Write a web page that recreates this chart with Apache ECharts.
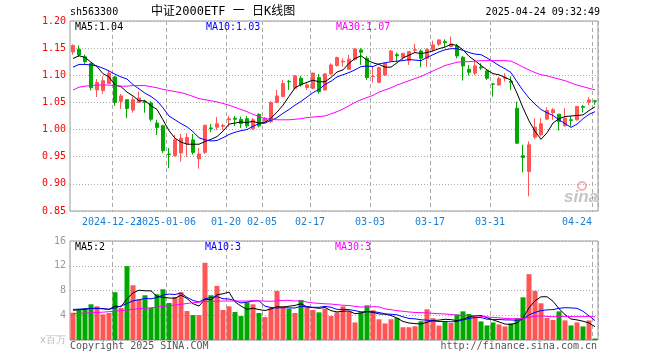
<!DOCTYPE html>
<html><head><meta charset="utf-8">
<script src="https://cdn.jsdelivr.net/npm/echarts@6/dist/echarts.min.js"></script>
<style>html,body{margin:0;padding:0;background:#fff}#c{width:660px;height:360px}</style>
</head><body><div id="c"></div>
<script>
const dates = ['2024-12-12','2024-12-13','2024-12-16','2024-12-17','2024-12-18','2024-12-19','2024-12-20','2024-12-23','2024-12-24','2024-12-25','2024-12-26','2024-12-27','2024-12-30','2024-12-31',
'2025-01-02','2025-01-03','2025-01-06','2025-01-07','2025-01-08','2025-01-09','2025-01-10','2025-01-13','2025-01-14','2025-01-15','2025-01-16','2025-01-17','2025-01-20','2025-01-21','2025-01-22','2025-01-23','2025-01-24','2025-01-27',
'2025-02-05','2025-02-06','2025-02-07','2025-02-10','2025-02-11','2025-02-12','2025-02-13','2025-02-14','2025-02-17','2025-02-18','2025-02-19','2025-02-20','2025-02-21','2025-02-24','2025-02-25','2025-02-26','2025-02-27','2025-02-28',
'2025-03-03','2025-03-04','2025-03-05','2025-03-06','2025-03-07','2025-03-10','2025-03-11','2025-03-12','2025-03-13','2025-03-14','2025-03-17','2025-03-18','2025-03-19','2025-03-20','2025-03-21','2025-03-24','2025-03-25','2025-03-26','2025-03-27','2025-03-28','2025-03-31',
'2025-04-01','2025-04-02','2025-04-03','2025-04-07','2025-04-08','2025-04-09','2025-04-10','2025-04-11','2025-04-14','2025-04-15','2025-04-16','2025-04-17','2025-04-18','2025-04-21','2025-04-22','2025-04-23','2025-04-24'];

const labelDates = ['2024-12-23','2025-01-06','2025-01-20','2025-02-05','2025-02-17','2025-03-03','2025-03-17','2025-03-31','2025-04-24'];
const labelTexts = ['2024-12-23','2025-01-06','01-20','02-05','02-17','03-03','03-17','03-31','04-24'];
const priceTicks = [0.85, 1.20, 0.05];
const volTicks = [0, 16, 4];

const open = [1.143,1.148,1.134,1.1215,1.073,1.072,1.085,1.097,1.052,1.055,
1.036,1.050,1.0515,1.049,1.012,1.007,0.955,0.952,0.957,0.974,
0.981,0.946,0.958,1.003,1.0044,1.006,1.018,1.021,1.019,1.020,
1.0014,1.028,1.015,1.015,1.050,1.061,1.0888,1.076,1.0946,1.0774,
1.076,1.0958,1.073,1.1025,1.118,1.1246,1.111,1.1295,1.1467,1.1313,
1.0975,1.087,1.1007,1.127,1.138,1.1332,1.127,1.146,1.1448,1.1313,
1.1479,1.1571,1.162,1.1528,1.154,1.1332,1.1111,1.1038,1.1148,1.108,
1.084,1.0823,1.0945,1.089,1.0394,0.9517,0.9229,0.9861,0.9904,1.0192,
1.0314,1.0284,1.0069,1.018,1.018,1.0425,1.0504,1.053];
const close = [1.155,1.1375,1.125,1.0774,1.0866,1.090,1.104,1.050,1.062,1.039,
1.055,1.058,1.050,1.019,1.004,0.961,0.954,0.981,0.984,0.9855,
0.958,0.955,1.008,1.002,1.0106,1.0075,1.020,1.019,1.011,1.007,
1.018,1.007,1.021,1.050,1.062,1.085,1.088,1.099,1.0823,1.0823,
1.104,1.070,1.1025,1.119,1.1326,1.1258,1.1295,1.1485,1.1424,1.0958,
1.098,1.114,1.1221,1.1448,1.136,1.1405,1.1436,1.147,1.1313,1.1479,
1.1559,1.1651,1.160,1.1577,1.1356,1.1172,1.1056,1.1172,1.1136,1.0946,
1.0835,1.0939,1.0964,1.087,0.975,0.9487,0.972,1.0044,1.0106,1.0351,
1.0363,1.0149,1.021,1.017,1.0425,1.0412,1.0547,1.052];
const low = [1.138,1.134,1.121,1.072,1.060,1.066,1.084,1.044,1.038,1.021,
1.031,1.049,1.031,1.015,0.990,0.957,0.929,0.950,0.941,0.950,
0.954,0.928,0.955,0.995,0.9995,0.9995,1.0055,1.0065,1.003,1.003,
0.999,1.004,1.012,1.012,1.0486,1.0596,1.073,1.0743,1.079,1.073,
1.074,1.066,1.072,1.100,1.116,1.116,1.110,1.127,1.119,1.0915,
1.0864,1.0854,1.099,1.1252,1.1252,1.1283,1.119,1.1418,1.1148,1.116,
1.1436,1.154,1.1516,1.1516,1.1313,1.0903,1.0995,1.1007,1.1099,1.0915,
1.0606,1.0805,1.0884,1.073,0.9738,0.9211,0.877,0.9824,0.9873,1.018,
1.018,0.9983,1.0057,1.0057,1.0167,1.0314,1.0455,1.0455];
const high = [1.157,1.155,1.138,1.123,1.093,1.098,1.110,1.099,1.066,1.055,
1.061,1.070,1.055,1.052,1.018,1.009,0.966,0.990,0.992,0.993,
0.992,0.966,1.0085,1.010,1.023,1.0106,1.025,1.025,1.024,1.025,
1.021,1.030,1.023,1.052,1.073,1.0915,1.0915,1.1007,1.099,1.0854,
1.105,1.1025,1.1038,1.122,1.1344,1.1313,1.1375,1.1497,1.1497,1.1356,
1.116,1.116,1.123,1.1467,1.1418,1.1405,1.1436,1.1577,1.1479,1.1497,
1.1638,1.1669,1.1663,1.1712,1.1577,1.1356,1.1191,1.1283,1.1221,1.1111,
1.0852,1.0976,1.1037,1.098,1.0517,0.972,0.9781,1.021,1.021,1.0412,
1.0394,1.0284,1.0394,1.0241,1.0437,1.0455,1.0596,1.0547];

const ma5 = [1.131,1.136,1.133,1.124,1.116,1.103,1.097,1.082,1.079,1.069,
1.062,1.053,1.053,1.044,1.037,1.018,0.998,0.984,0.977,0.973,
0.973,0.973,0.978,0.982,0.987,0.997,1.010,1.012,1.014,1.013,
1.015,1.012,1.013,1.021,1.032,1.045,1.061,1.077,1.083,1.087,
1.091,1.088,1.088,1.096,1.106,1.110,1.122,1.131,1.136,1.128,
1.123,1.120,1.115,1.115,1.123,1.132,1.137,1.142,1.140,1.142,
1.145,1.149,1.152,1.157,1.155,1.147,1.135,1.127,1.118,1.110,
1.103,1.101,1.096,1.091,1.067,1.040,1.016,0.997,0.982,0.994,
1.012,1.020,1.024,1.025,1.026,1.027,1.035,1.042];
const ma10 = [1.115,1.120,1.120,1.119,1.117,1.113,1.108,1.102,1.097,1.093,
1.083,1.075,1.067,1.061,1.053,1.040,1.025,1.018,1.011,1.005,
0.996,0.985,0.981,0.979,0.980,0.985,0.991,0.995,0.998,1.000,
1.006,1.011,1.012,1.017,1.022,1.030,1.037,1.045,1.052,1.060,
1.068,1.074,1.083,1.089,1.097,1.101,1.105,1.110,1.116,1.117,
1.116,1.121,1.123,1.125,1.126,1.127,1.129,1.128,1.127,1.133,
1.138,1.143,1.147,1.149,1.149,1.146,1.142,1.139,1.138,1.132,
1.125,1.118,1.112,1.105,1.088,1.072,1.058,1.047,1.037,1.031,
1.026,1.018,1.011,1.004,1.010,1.020,1.028,1.033];
const ma30 = [1.073,1.078,1.080,1.081,1.082,1.082,1.082,1.081,1.080,1.080,
1.081,1.081,1.081,1.079,1.077,1.074,1.072,1.070,1.068,1.065,
1.061,1.057,1.055,1.053,1.051,1.048,1.045,1.041,1.037,1.033,
1.028,1.024,1.020,1.019,1.018,1.018,1.018,1.019,1.020,1.022,
1.023,1.024,1.025,1.029,1.033,1.038,1.044,1.050,1.055,1.059,
1.063,1.069,1.073,1.077,1.082,1.086,1.090,1.094,1.098,1.103,
1.108,1.113,1.118,1.121,1.124,1.125,1.125,1.126,1.127,1.127,
1.127,1.127,1.127,1.126,1.121,1.115,1.110,1.105,1.101,1.099,
1.096,1.093,1.090,1.086,1.082,1.079,1.076,1.073];

const volume = [4.41,4.95,5.06,5.77,5.44,4.14,4.36,7.72,5.17,11.94,
8.85,6.58,7.23,5.17,7.39,8.2,5.98,6.96,7.72,4.68,
4.03,4.03,12.48,7.23,8.74,4.85,5.44,4.52,3.87,6.09,
5.77,4.36,3.71,5.17,7.93,5.44,5.06,4.36,6.47,5.44,
4.85,4.47,5.06,3.87,4.47,5.44,4.63,2.84,4.47,5.6,
4.8,3.35,2.68,3.35,3.58,2.06,2.06,2.22,3.03,4.96,
3.52,2.33,2.9,2.74,4.14,4.63,4.2,3.87,3.0,2.36,
2.84,2.52,2.19,2.68,3.52,6.9,10.64,7.93,5.93,3.55,
3.25,4.63,3.17,2.36,2.84,2.19,3.17,0.24];
const vma5 = [4.8,4.9,5.0,5.1,5.13,5.07,4.95,5.49,5.37,6.67,
7.61,8.05,7.95,7.95,7.04,6.91,6.79,6.74,7.25,6.71,
5.87,5.48,6.59,6.49,7.3,7.47,7.75,6.16,5.48,4.95,
5.14,4.92,4.76,5.02,5.39,5.32,5.46,5.59,5.85,5.35,
5.24,5.12,5.26,4.74,4.54,4.66,4.69,4.25,4.37,4.6,
4.47,4.21,4.18,3.96,3.55,3.0,2.75,2.65,2.59,2.87,
3.16,3.21,3.35,3.29,3.13,3.35,3.72,3.92,3.97,3.61,
3.25,2.92,2.58,2.52,2.75,3.56,5.19,6.33,6.98,6.99,
6.26,5.06,4.11,3.39,3.25,3.04,2.75,2.16];
const vma10 = [4.95,4.98,5.03,5.08,5.1,5.05,4.95,5.2,5.5,5.9,
6.34,6.5,6.72,6.66,6.86,7.26,7.42,7.35,7.6,6.88,
6.39,6.14,6.66,6.87,7.0,6.67,6.62,6.37,5.99,6.13,
6.3,6.33,5.46,5.25,5.17,5.23,5.19,5.18,5.44,5.37,
5.28,5.29,5.43,5.3,4.95,4.95,4.91,4.75,4.55,4.57,
4.57,4.45,4.22,4.16,4.07,3.74,3.48,3.42,3.27,3.21,
3.08,2.98,3.0,2.94,3.0,3.25,3.47,3.63,3.63,3.37,
3.3,3.32,3.25,3.24,3.18,3.41,4.05,4.46,4.75,4.87,
4.91,5.12,5.22,5.19,5.12,4.65,3.9,3.13];
const vma30 = [4.25,4.3,4.35,4.4,4.45,4.5,4.58,4.66,4.75,4.85,
4.95,5.05,5.13,5.2,5.32,5.45,5.55,5.65,5.77,5.9,
6.02,6.12,6.2,6.25,6.28,6.3,6.3,6.3,6.3,6.3,
6.35,6.33,6.28,6.26,6.34,6.39,6.41,6.3,6.34,6.13,
5.99,5.92,5.85,5.81,5.71,5.62,5.57,5.43,5.33,5.36,
5.38,5.36,5.03,4.9,4.73,4.64,4.53,4.45,4.42,4.38,
4.31,4.24,4.21,4.13,4.01,3.98,3.95,3.93,3.82,3.72,
3.65,3.58,3.49,3.45,3.42,3.47,3.67,3.84,3.88,3.82,
3.76,3.81,3.82,3.79,3.77,3.77,3.81,3.74];

const MONO = '"DejaVu Sans Mono","Liberation Mono",monospace';
const RED = '#ff5555', GREEN = '#00a800', BLUE_LBL = '#1a7fd4';
const isLabel = (i, v) => labelDates.indexOf(v) >= 0;
const isFirstLabel = (i, v) => v === labelDates[0];
const isOtherLabel = (i, v) => labelDates.indexOf(v) > 0;

const chart = echarts.init(document.getElementById('c'), null, {renderer: 'canvas'});

const txt = (x, y, text, fill, extra) => Object.assign({
  type: 'text', x: x, y: y, z: 100,
  style: Object.assign({text: text, font: '10px ' + MONO, fill: fill, verticalAlign: 'middle'}, extra || {})
});

const lineSeries = (data, color, xi, yi) => ({
  type: 'line', data: data, xAxisIndex: xi, yAxisIndex: yi, showSymbol: false, symbol: 'none',
  lineStyle: {color: color, width: 1}, itemStyle: {color: color}, silent: true, z: 5
});

const xLabel = (filter) => ({
  interval: filter, margin: 6, hideOverlap: false,
  formatter: (v) => {
    const k = labelDates.indexOf(v);
    return (k === labelDates.length - 1 ? '{e|' : '{n|') + labelTexts[k] + '}';
  },
  rich: {
    n: {fontFamily: MONO, fontSize: 10, color: BLUE_LBL, padding: [0, 6, 0, 0]},
    e: {fontFamily: MONO, fontSize: 10, color: BLUE_LBL, padding: [0, 36, 0, 0]}
  }
});

const xCommon = {
  type: 'category', data: dates, boundaryGap: true, position: 'bottom', offset: 0,
  axisLine: {show: false}, axisTick: {show: false},
  splitLine: {show: true, interval: isLabel, lineStyle: {color: '#aaa', type: [4, 3], width: 1}}
};

chart.setOption({
  animation: false,
  backgroundColor: '#fff',
  grid: [
    {left: 70, top: 21, width: 528, height: 190, show: true, borderColor: '#999', borderWidth: 1},
    {left: 70, top: 241, width: 528, height: 99, show: true, borderColor: '#999', borderWidth: 1}
  ],
  xAxis: [
    Object.assign({}, xCommon, {gridIndex: 0, axisLabel: xLabel(isOtherLabel)}),
    Object.assign({}, xCommon, {gridIndex: 1, axisLabel: {show: false}}),
    Object.assign({}, xCommon, {gridIndex: 0, splitLine: {show: false}, axisLabel: xLabel(isFirstLabel)})
  ],
  yAxis: [
    {type: 'value', gridIndex: 0, min: priceTicks[0], max: priceTicks[1], interval: priceTicks[2],
     axisLine: {show: false}, axisTick: {show: false},
     axisLabel: {color: '#ff0000', fontFamily: MONO, fontSize: 10, margin: 4, formatter: (v) => v.toFixed(2)},
     splitLine: {lineStyle: {color: '#aaa', type: [1, 2]}}},
    {type: 'value', gridIndex: 1, min: volTicks[0], max: volTicks[1], interval: volTicks[2],
     axisLine: {show: false}, axisTick: {show: false},
     axisLabel: {color: (v) => (Number(v) === 0 ? '#bbb' : '#999'), fontFamily: MONO, fontSize: 10, margin: 4,
       formatter: (v) => (v === 0 ? 'x百万' : String(v))},
     splitLine: {lineStyle: {color: '#aaa', type: [1, 2]}}}
  ],
  series: [
    {type: 'candlestick', xAxisIndex: 0, yAxisIndex: 0, barWidth: 4,
     data: dates.map((d, i) => [open[i], close[i], low[i], high[i]]),
     itemStyle: {color: RED, color0: GREEN, borderColor: RED, borderColor0: GREEN, borderWidth: 1}, z: 3},
    lineSeries(ma5, '#000000', 0, 0),
    lineSeries(ma10, '#0000ff', 0, 0),
    lineSeries(ma30, '#ff00ff', 0, 0),
    {type: 'bar', xAxisIndex: 1, yAxisIndex: 1, barWidth: 5,
     data: volume.map((v, i) => ({value: v, itemStyle: {color: close[i] >= open[i] ? RED : GREEN}})), z: 3},
    lineSeries(vma5, '#000000', 1, 1),
    lineSeries(vma10, '#0000ff', 1, 1),
    lineSeries(vma30, '#ff00ff', 1, 1)
  ],
  graphic: [
    txt(70, 12, 'sh563300', '#000'),
    txt(151, 12, '中证2000ETF 一 日K线图', '#000', {font: '12px "DejaVu Sans Mono","Noto Sans CJK SC",sans-serif'}),
    txt(600, 12, '2025-04-24 09:32:49', '#000', {align: 'right'}),
    txt(75, 27, 'MA5:1.04', '#000'),
    txt(206, 27, 'MA10:1.03', '#0000ff'),
    txt(336, 27, 'MA30:1.07', '#ff00ff'),
    txt(75, 247, 'MA5:2', '#000'),
    txt(205, 247, 'MA10:3', '#0000ff'),
    txt(335, 247, 'MA30:3', '#ff00ff'),
    txt(70, 346, 'Copyright 2025 SINA.COM', '#555'),
    txt(597, 346, 'http://finance.sina.com.cn', '#555', {align: 'right'}),
    {type: 'circle', z: 1, shape: {cx: 582, cy: 186, r: 4}, style: {fill: 'none', stroke: 'rgba(225,90,90,0.45)', lineWidth: 2}},
    txt(581, 197, 'sina', 'rgba(150,150,150,0.55)', {font: 'italic bold 17px "Liberation Sans",sans-serif', align: 'center'})
  ]
});
</script>
</body></html>
